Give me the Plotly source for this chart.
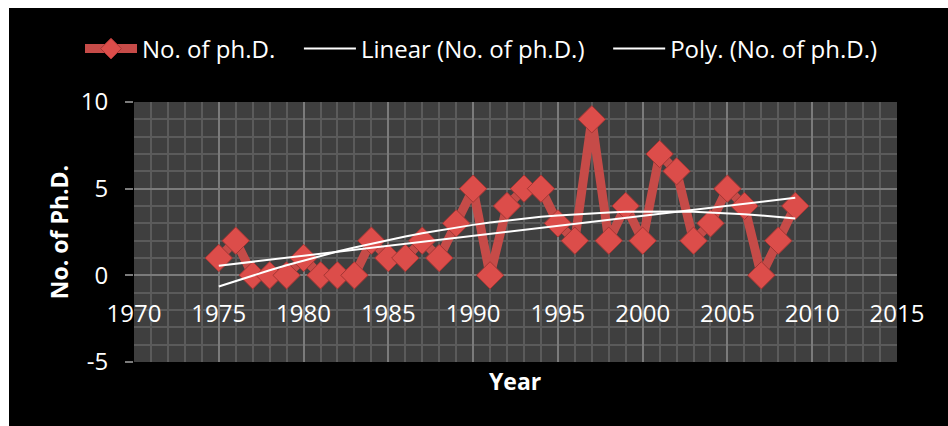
import numpy as np
import plotly.graph_objects as go

years = list(range(1975, 2010))
phd = [1, 2, 0, 0, 0, 1, 0, 0, 0, 2, 1, 1, 2, 1, 3, 5, 0, 4, 5, 5,
       3, 2, 9, 2, 4, 2, 7, 6, 2, 3, 5, 4, 0, 2, 4]
x_ticks = list(range(1970, 2016, 5))
y_ticks = [-5, 0, 5, 10]
y_tick_text = ["-5", "0", "5", "10"]

xa = np.array(years, dtype=float)
ya = np.array(phd, dtype=float)
lin = np.polyval(np.polyfit(xa - 1990, ya, 1), xa - 1990)
poly = np.polyval(np.polyfit(xa - 1990, ya, 2), xa - 1990)

FONT = "Open Sans"
PAD = "\u00a0" * 3
fig = go.Figure()
fig.add_trace(go.Scatter(
    x=years, y=phd, mode="lines+markers", name="No. of ph.D." + PAD,
    line=dict(color="#c64b48", width=9),
    marker=dict(symbol="diamond", size=21, color="#dc4d4a",
                line=dict(color="#a53634", width=1)),
))
fig.add_trace(go.Scatter(x=years, y=lin, mode="lines", name="Linear (No. of ph.D.)" + PAD,
                         line=dict(color="white", width=2)))
fig.add_trace(go.Scatter(x=years, y=poly, mode="lines", name="Poly. (No. of ph.D.)",
                         line=dict(color="white", width=2)))

L, R, T, B = 134, 51, 102, 64
W, H = 948, 426
pw, ph = W - L - R, H - T - B
def px(v): return (v - L) / pw
def py(v): return (H - B - v) / ph

fig.update_layout(
    width=W, height=H,
    margin=dict(l=L, r=R, t=T, b=B, autoexpand=False),
    paper_bgcolor="black", plot_bgcolor="#3f3f3f",
    font=dict(family=FONT, size=22, color="white"),
    showlegend=True,
    legend=dict(orientation="h", x=px(80), xanchor="left", y=py(49), yanchor="middle",
                font=dict(family=FONT, size=24, color="white"),
                bgcolor="rgba(0,0,0,0)", itemwidth=52),
    xaxis=dict(range=[1970, 2015], tickvals=x_ticks, ticktext=[str(v) for v in x_ticks],
               anchor="free", position=1/3, showline=False, ticks="",
               ticklabelstandoff=22,
               showgrid=True, gridcolor="#7b7b7b", gridwidth=2,
               minor=dict(dtick=1, showgrid=True, gridcolor="#5b5b5b", gridwidth=2),
               zeroline=False, tickfont=dict(size=24, color="white")),
    yaxis=dict(range=[-5, 10], tickvals=y_ticks, ticktext=y_tick_text,
               ticks="outside", ticklen=8,
               tickcolor="#7b7b7b", tickwidth=2, ticklabelstandoff=12,
               showgrid=True, gridcolor="#7b7b7b", gridwidth=2,
               minor=dict(dtick=1, showgrid=True, gridcolor="#5b5b5b", gridwidth=2),
               zeroline=True, zerolinecolor="#7b7b7b", zerolinewidth=2,
               tickfont=dict(size=24, color="white"),
               title=dict(text="<b>No. of Ph.D.</b>", font=dict(size=23, color="white"),
                          standoff=5)),
    annotations=[dict(text="<b>Year</b>", xref="paper", yref="paper", x=px(515), y=py(381),
                      xanchor="center", yanchor="middle", showarrow=False,
                      font=dict(family=FONT, size=23, color="white"))],
    shapes=[
        dict(type="rect", xref="paper", yref="paper", x0=px(0), x1=px(W), y0=py(0), y1=py(8),
             fillcolor="white", line=dict(width=0), layer="above"),
        dict(type="rect", xref="paper", yref="paper", x0=px(0), x1=px(9), y0=py(0), y1=py(H),
             fillcolor="white", line=dict(width=0), layer="above"),
    ],
)
fig.write_html("out.html")
